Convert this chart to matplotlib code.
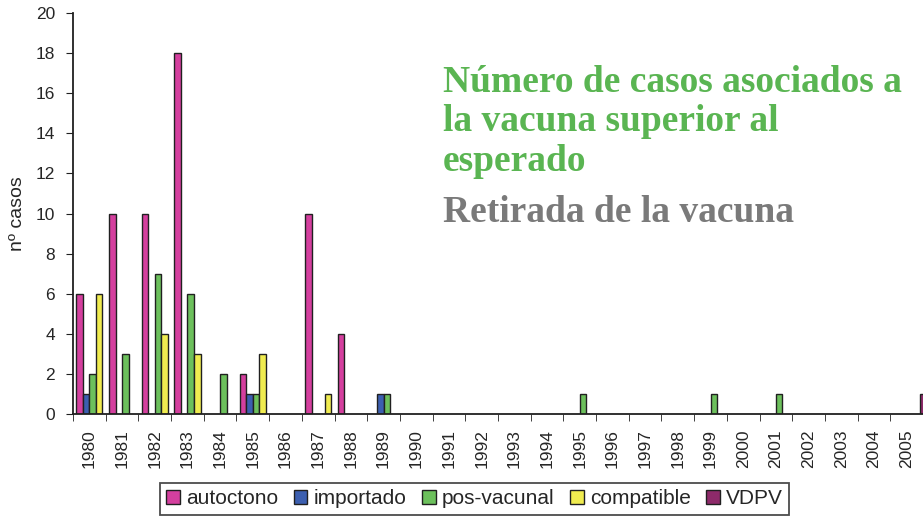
import numpy as np
import matplotlib.pyplot as plt
from matplotlib.patches import Patch

# data
years = [str(y) for y in range(1980, 2006)]
autoctono =   [6, 10, 10, 18, 0, 2, 0, 10, 4, 0, 0, 0, 0, 0, 0, 0, 0, 0, 0, 0, 0, 0, 0, 0, 0, 0]
importado =   [1, 0, 0, 0, 0, 1, 0, 0, 0, 1, 0, 0, 0, 0, 0, 0, 0, 0, 0, 0, 0, 0, 0, 0, 0, 0]
posvacunal =  [2, 3, 7, 6, 2, 1, 0, 0, 0, 1, 0, 0, 0, 0, 0, 1, 0, 0, 0, 1, 0, 1, 0, 0, 0, 0]
compatible =  [6, 0, 4, 3, 0, 3, 0, 1, 0, 0, 0, 0, 0, 0, 0, 0, 0, 0, 0, 0, 0, 0, 0, 0, 0, 0]
vdpv =        [0, 0, 0, 0, 0, 0, 0, 0, 0, 0, 0, 0, 0, 0, 0, 0, 0, 0, 0, 0, 0, 0, 0, 0, 0, 1]

series = [autoctono, importado, posvacunal, compatible, vdpv]
names = ['autoctono', 'importado', 'pos-vacunal', 'compatible', 'VDPV']
colors = ['#d43f9e', '#3c5fb0', '#6cc05c', '#f0ec50', '#8e2a6a']

plt.rcParams['font.family'] = ['Liberation Sans', 'DejaVu Sans']

fig = plt.figure(figsize=(9.23, 5.17), dpi=100)
W, H = 923, 517
ax = fig.add_axes([73 / W, 1 - 414 / H, 850 / W, (414 - 13) / H])

x = np.arange(len(years))
w = 0.2
for i, (vals, c) in enumerate(zip(series, colors)):
    xs = x - 0.4 + w * i + w / 2
    v = np.array(vals, dtype=float)
    m = v > 0
    ax.bar(xs[m], v[m], width=w, color=c, edgecolor='#202020', linewidth=1.0)

ax.set_xlim(-0.5, len(years) - 0.5)
ax.set_ylim(0, 20)
ax.set_yticks(range(0, 21, 2))
ax.tick_params(axis='y', labelsize=12.5, length=5, pad=8, direction='out', color='#202020', labelcolor='#262626')
ax.set_xticks(x)
ax.set_xticklabels(years, rotation=90, fontsize=12.5, color='#262626')
ax.tick_params(axis='x', which='major', length=0, pad=11)
ax.set_xticks(np.arange(-0.5, len(years)), minor=True)
ax.tick_params(axis='x', which='minor', length=5, direction='out', color='#202020')
ax.spines['top'].set_visible(False)
ax.spines['right'].set_visible(False)
ax.spines['left'].set_color('#202020')
ax.spines['bottom'].set_color('#202020')
ax.spines['left'].set_linewidth(1.3)
ax.spines['bottom'].set_linewidth(1.3)
ax.set_ylabel('nº casos', fontsize=14, color='#262626')
ax.yaxis.set_label_coords(-47 / 850, 0.5)

# annotation text
green = '#5ab552'
gray = '#7a7a7a'
tx = 443 / W
lines = [('Número de casos asociados a', 92, green),
         ('la vacuna superior al', 131, green),
         ('esperado', 171, green),
         ('Retirada de la vacuna', 222, gray)]
for s, yb, c in lines:
    fig.text(tx, 1 - yb / H, s, color=c, fontsize=27,
             family='Liberation Serif', weight='bold', va='baseline')

handles = [Patch(facecolor=c, edgecolor='#202020', linewidth=1.0) for c in colors]
leg = fig.legend(handles, names, loc='upper left', bbox_to_anchor=(160 / W, 1 - 483 / H),
                 ncol=5, fontsize=15, frameon=True, fancybox=False, edgecolor='#202020',
                 handlelength=0.65, handleheight=0.65, handletextpad=0.3, columnspacing=0.75,
                 borderpad=0.3, borderaxespad=0)
leg.get_frame().set_linewidth(1.3)
for t in leg.get_texts():
    t.set_color('#262626')

fig.savefig('out.png', dpi=100)
